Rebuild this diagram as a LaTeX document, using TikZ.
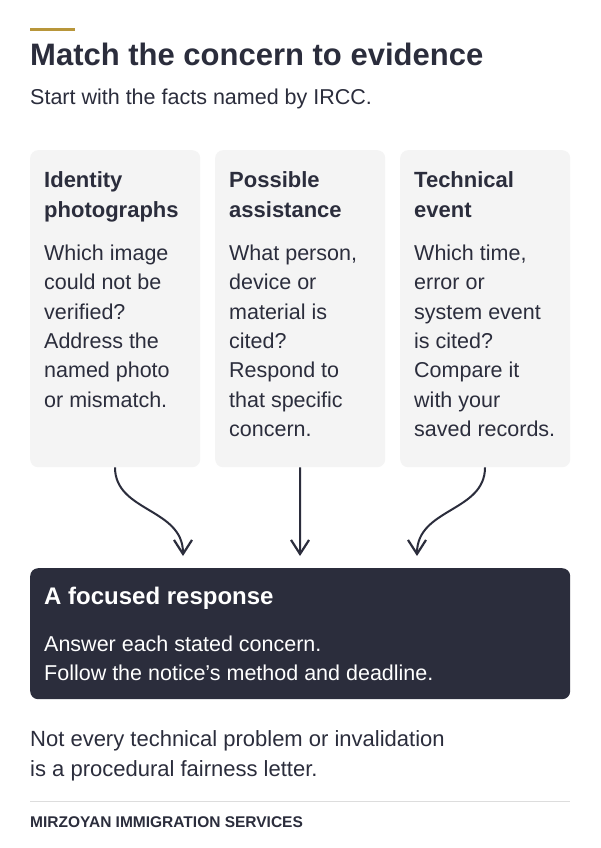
\documentclass[tikz,border=0pt]{standalone}
\usepackage{fontspec}
\setmainfont{Liberation Sans}
\usetikzlibrary{arrows.meta}
\definecolor{ink}{HTML}{2B2D3C}
\definecolor{gold}{HTML}{B8963A}
\definecolor{cardbg}{HTML}{F4F4F4}
\definecolor{rulegray}{HTML}{DDDDDD}
\newcommand{\ml}[1]{\begin{tabular}[t]{@{}l@{}}#1\end{tabular}}
\tikzset{
  txt/.style={inner sep=0pt, anchor=base west, text=ink},
  headline/.style={txt, font=\fontsize{31}{36}\selectfont\bfseries},
  subline/.style={txt, font=\fontsize{21.5}{29.3}\selectfont},
  cardtitle/.style={txt, font=\fontsize{22}{29.5}\selectfont\bfseries},
  cardbody/.style={txt, font=\fontsize{21.5}{29.3}\selectfont},
  card/.style={fill=cardbg, rounded corners=8pt, minimum width=170pt, minimum height=317pt, anchor=north west, inner sep=0pt},
  flow/.style={draw=ink, line width=2pt, -{Straight Barb[length=14pt, width=18pt, line width=2.2pt]}},
}
\begin{document}
\begin{tikzpicture}[x=1pt, y=-1pt]
\useasboundingbox (0,0) rectangle (600,848);
\fill[white] (0,0) rectangle (600,848);
% accent bar
\node[fill=gold, minimum width=45pt, minimum height=3.5pt, inner sep=0pt, anchor=north west] (accent) at (30,27.5) {};
\node[headline] (title) at (30,66) {Match the concern to evidence};
\node[subline] (sub) at (30,104.5) {Start with the facts named by IRCC.};
% cards
\node[card] (b1) at (30,150) {};
\node[card] (b2) at (215,150) {};
\node[card] (b3) at (400,150) {};
\node[cardtitle] (h1) at (44,187.5) {\ml{Identity\\photographs}};
\node[cardtitle] (h2) at (229,187.5) {\ml{Possible\\assistance}};
\node[cardtitle] (h3) at (414,187.5) {\ml{Technical\\event}};
\node[cardbody] (d1) at (44,260.5) {\ml{Which image\\could not be\\verified?\\Address the\\named photo\\or mismatch.}};
\node[cardbody] (d2) at (229,260.5) {\ml{What person,\\device or\\material is\\cited?\\Respond to\\that specific\\concern.}};
\node[cardbody] (d3) at (414,260.5) {\ml{Which time,\\error or\\system event\\is cited?\\Compare it\\with your\\saved records.}};
% result box
\node[fill=ink, rounded corners=8pt, minimum width=540pt, minimum height=131pt, anchor=north west, inner sep=0pt] (res) at (30,568) {};
\node[txt, text=white, font=\fontsize{24}{29}\selectfont\bfseries] (rtitle) at (44,604) {A focused response};
\node[txt, text=white, font=\fontsize{21.5}{29.3}\selectfont] (rbody) at (44,651) {\ml{Answer each stated concern.\\Follow the notice’s method and deadline.}};
% arrow targets
\coordinate (e1) at (183,556);
\coordinate (e2) at (300,556);
\coordinate (e3) at (417,556);
\draw[flow] (b1.south west) ++(85,0) coordinate (s1) .. controls (115,512) and (183,508) .. (e1);
\draw[flow] (b2.south) -- (e2);
\draw[flow] (b3.south west) ++(85,0) coordinate (s3) .. controls (485,512) and (417,508) .. (e3);
% footer
\node[txt, font=\fontsize{22}{29.6}\selectfont] (note) at (30,746.5) {\ml{Not every technical problem or invalidation\\is a procedural fairness letter.}};
\coordinate (rl) at (30,801.5);
\coordinate (rr) at (570,801.5);
\draw[rulegray, line width=1pt] (rl) -- (rr);
\node[txt, font=\fontsize{15.5}{18}\selectfont\bfseries] (brand) at (30,827.5) {MIRZOYAN IMMIGRATION SERVICES};
\end{tikzpicture}
\end{document}
